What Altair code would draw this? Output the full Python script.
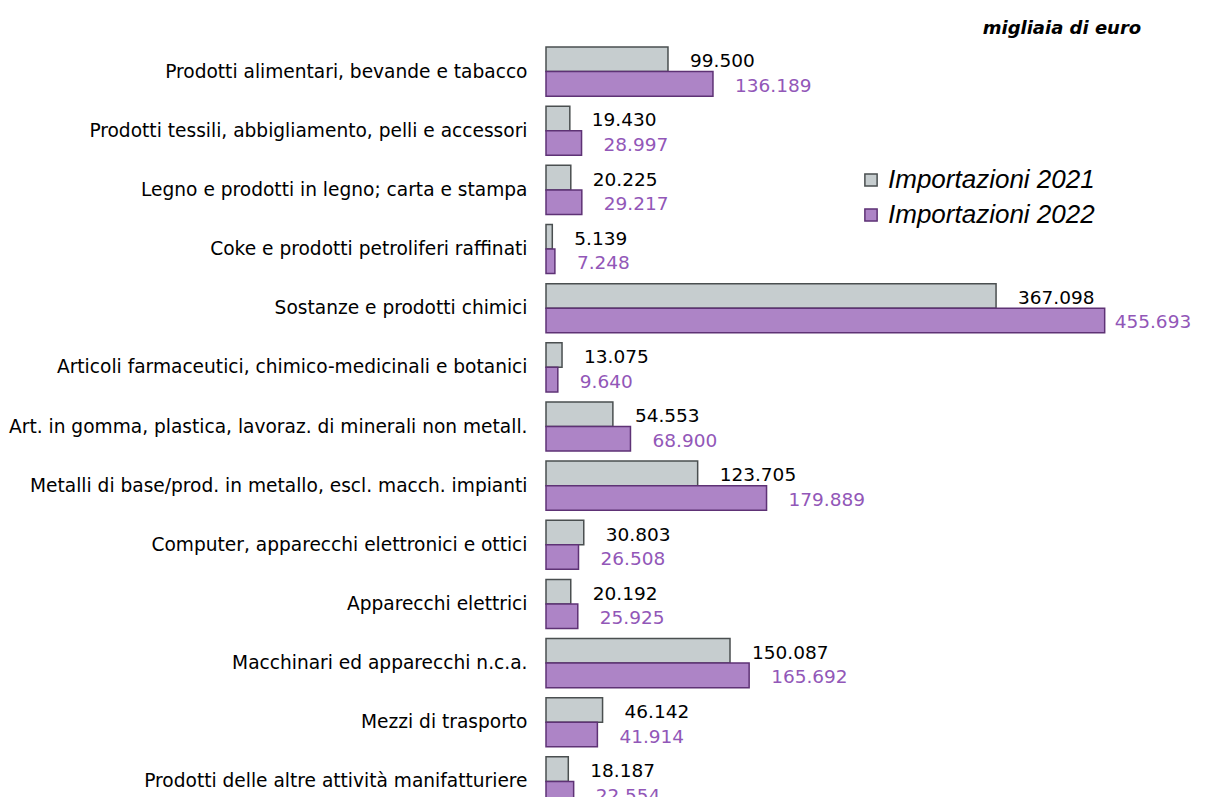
import altair as alt
import pandas as pd

categories = [
    "Prodotti alimentari, bevande e tabacco",
    "Prodotti tessili, abbigliamento, pelli e accessori",
    "Legno e prodotti in legno; carta e stampa",
    "Coke e prodotti petroliferi raffinati",
    "Sostanze e prodotti chimici",
    "Articoli farmaceutici, chimico-medicinali e botanici",
    "Art. in gomma, plastica, lavoraz. di minerali non metall.",
    "Metalli di base/prod. in metallo, escl. macch. impianti",
    "Computer, apparecchi elettronici e ottici",
    "Apparecchi elettrici",
    "Macchinari ed apparecchi n.c.a.",
    "Mezzi di trasporto",
    "Prodotti delle altre attività manifatturiere",
]
imp_2021 = [99500, 19430, 20225, 5139, 367098, 13075, 54553, 123705, 30803, 20192, 150087, 46142, 18187]
imp_2022 = [136189, 28997, 29217, 7248, 455693, 9640, 68900, 179889, 26508, 25925, 165692, 41914, 22554]
series = ["Importazioni 2021", "Importazioni 2022"]


def fmt(v):
    return f"{v:,}".replace(",", ".")


rows = []
for c, a, b in zip(categories, imp_2021, imp_2022):
    rows.append({"cat": c, "serie": series[0], "val": a, "lab": fmt(a)})
    rows.append({"cat": c, "serie": series[1], "val": b, "lab": fmt(b)})
df = pd.DataFrame(rows)

FONT = "DejaVu Sans"

y_enc = alt.Y(
    "cat:N",
    sort=categories,
    title=None,
    scale=alt.Scale(paddingInner=0.17, paddingOuter=0.085, range=[0, 769]),
    axis=alt.Axis(
        domain=False, ticks=False, labelPadding=19, labelFontSize=18.6,
        labelFont=FONT, labelColor="black", labelLimit=700,
    ),
)
yoff = alt.YOffset("serie:N", sort=series, scale=alt.Scale(paddingInner=0, paddingOuter=0))
x_enc = alt.X("val:Q", scale=alt.Scale(domain=[0, 500000]), axis=None)

bars = alt.Chart(df).mark_bar(strokeWidth=1.5).encode(
    y=y_enc,
    yOffset=yoff,
    x=x_enc,
    fill=alt.Fill(
        "serie:N", sort=series,
        scale=alt.Scale(domain=series, range=["#C6CDCF", "#AD84C6"]),
        legend=alt.Legend(
            title=None, orient="none", legendX=312, legendY=125,
            labelFontSize=26, labelFontStyle="italic", labelFont="Liberation Sans",
            labelColor="black", symbolType="square", symbolSize=150,
            symbolStrokeWidth=1.5, rowPadding=9, labelOffset=4, labelLimit=400,
        ),
    ),
    stroke=alt.Stroke(
        "serie:N", sort=series,
        scale=alt.Scale(domain=series, range=["#4A4F50", "#5E3275"]),
        legend=None,
    ),
)

label_color = alt.Color(
    "serie:N", sort=series,
    scale=alt.Scale(domain=series, range=["#000000", "#9257B8"]),
    legend=None,
)

labels = alt.Chart(df).transform_filter("datum.val < 400000").mark_text(
    align="left", baseline="middle", dx=22, dy=2, fontSize=18.5, font=FONT
).encode(y=y_enc, yOffset=yoff, x=x_enc, text="lab:N", color=label_color)

labels_big = alt.Chart(df).transform_filter("datum.val >= 400000").mark_text(
    align="left", baseline="middle", dx=10, dy=2, fontSize=18.5, font=FONT
).encode(y=y_enc, yOffset=yoff, x=x_enc, text="lab:N", color=label_color)

chart = (
    alt.layer(bars, labels, labels_big)
    .resolve_scale(color="independent", fill="independent", stroke="independent")
    .properties(
        width=613,
        height=755,
        autosize=alt.AutoSizeParams(type="none"),
        padding={"left": 538, "top": 34, "right": 38, "bottom": 0},
        title=alt.TitleParams(
            "migliaia di euro", anchor="end", fontSize=18, fontStyle="italic",
            fontWeight="bold", font=FONT, color="black", dx=-50, offset=4,
        ),
    )
    .configure_view(stroke=None)
)

chart.save("out.html", embed_options={"renderer": "svg", "actions": False})
